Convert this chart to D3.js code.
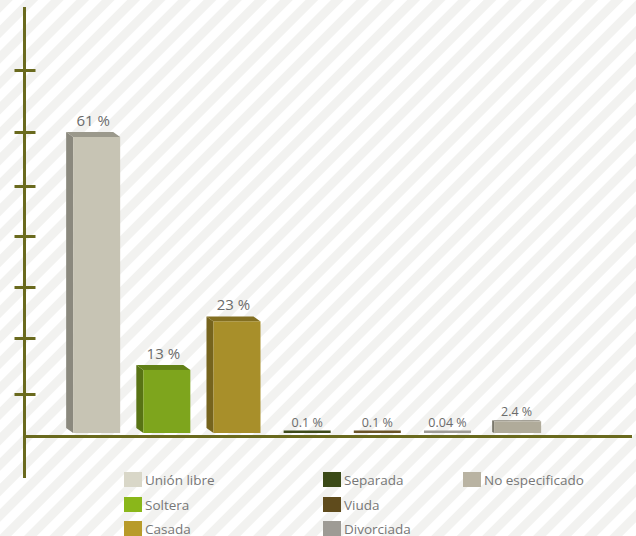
<!DOCTYPE html>
<html><head><meta charset="utf-8">
<script src="https://cdn.jsdelivr.net/npm/d3@7"></script>
<style>html,body{margin:0;padding:0;background:#fff;}svg{display:block;}</style>
</head><body>
<script>
const categories = ["Unión libre","Soltera","Casada","Separada","Viuda","Divorciada","No especificado"];
const values = [61, 13, 23, 0.1, 0.1, 0.04, 2.4];
const valueLabels = ["61 %","13 %","23 %","0.1 %","0.1 %","0.04 %","2.4 %"];
const barColors = ["#c7c4b4","#7ea51d","#a88f2a","#3d4a1a","#6a5428","#9f9c96","#b0ab9a"];
const legendColors = ["#d9d7c8","#8ab71a","#b89b2a","#3b4a17","#5f4b1c","#9e9b95","#b9b3a2"];
const tickValues = [8, 19.6, 30.1, 40.6, 50.9, 62, 74.8];

const W = 636, H = 536;
const svg = d3.select("body").append("svg").attr("width", W).attr("height", H);

// striped background
const defs = svg.append("defs");
const pat = defs.append("pattern").attr("id","stripes").attr("patternUnits","userSpaceOnUse")
  .attr("width",18).attr("height",18).attr("patternTransform","rotate(45)");
pat.append("rect").attr("width",18).attr("height",18).attr("fill","#ffffff");
pat.append("rect").attr("width",9).attr("height",18).attr("fill","#f2f2f0");
svg.append("rect").attr("width",W).attr("height",H).attr("fill","url(#stripes)");

const axisColor = "#6a6a1e";
const base = 433;
const y = d3.scaleLinear().domain([0, 88]).range([base, 6]);
const x = d3.scaleBand().domain(categories).range([50, 564.3]).paddingInner(0.33).paddingOuter(0.33);

// y axis
const axisX = 24.5;
svg.append("line").attr("x1",axisX).attr("x2",axisX).attr("y1",y(88)+1).attr("y2",478)
  .attr("stroke",axisColor).attr("stroke-width",3);
svg.selectAll(".tick").data(tickValues).enter().append("line")
  .attr("x1",axisX-10).attr("x2",axisX+11)
  .attr("y1",d=>Math.round(y(d))+0.5).attr("y2",d=>Math.round(y(d))+0.5)
  .attr("stroke",axisColor).attr("stroke-width",3);

// bars
const g = svg.append("g");
categories.forEach((c,i)=>{
  const v = values[i];
  const x0 = x(c), bw = x.bandwidth(), x1 = x0 + bw;
  let top = y(v);
  let h = base - top;
  if (h < 2.5) { h = 2.5; top = base - h; }
  const dx = h > 30 ? 7 : (h > 8 ? 2 : 0);
  const dy = h > 30 ? 5 : (h > 8 ? 1 : 0);
  const col = d3.color(barColors[i]);
  if (dx > 0) {
    // side face (left)
    g.append("path").attr("d",`M${x0},${top} L${x0-dx},${top-dy} L${x0-dx},${base-dy} L${x0},${base} Z`)
      .attr("fill", col.darker(1.0));
    // top face
    g.append("path").attr("d",`M${x0-dx},${top-dy} L${x1-dx},${top-dy} L${x1},${top} L${x0},${top} Z`)
      .attr("fill", col.darker(0.7));
  }
  g.append("rect").attr("x",x0).attr("y",top).attr("width",bw).attr("height",h)
    .attr("fill", barColors[i]);
  const big = v >= 5;
  g.append("text").attr("x", x0 + bw/2 - dx/2).attr("y", top - dy - (big ? 6 : 4))
    .attr("text-anchor","middle")
    .attr("font-family","'Open Sans', sans-serif")
    .attr("font-size", big ? 15 : 12.5)
    .attr("fill","#6b6b6b")
    .text(valueLabels[i]);
});

// x baseline
svg.append("line").attr("x1",axisX-1.5).attr("x2",632).attr("y1",436.5).attr("y2",436.5)
  .attr("stroke",axisColor).attr("stroke-width",3);

// legend
const colX = [124, 323, 463];
const rowY = [472, 497, 521];
categories.forEach((c,i)=>{
  const col = Math.floor(i/3), row = i%3;
  const lg = svg.append("g").attr("transform",`translate(${colX[col]},${rowY[row]})`);
  lg.append("rect").attr("width",18).attr("height",15).attr("fill",legendColors[i]);
  lg.append("text").attr("x",21).attr("y",12.5)
    .attr("font-family","'Open Sans', sans-serif").attr("font-size",13.5)
    .attr("fill","#777").text(c);
});
</script>
</body></html>
